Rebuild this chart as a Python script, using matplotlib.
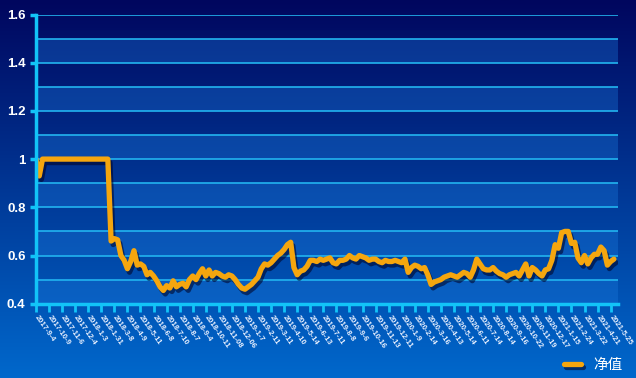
import numpy as np
import matplotlib
matplotlib.use("Agg")
import matplotlib.pyplot as plt
import matplotlib.patheffects as pe
from matplotlib.colors import LinearSegmentedColormap

# ---- data (weekly samples of the NAV curve, 5 trading days apart) ----
nav = [1.0, 0.93, 1.0, 1.0, 1.0, 1.0, 1.0, 1.0, 1.0, 1.0,
       1.0, 1.0, 1.0, 1.0, 1.0, 1.0, 1.0, 1.0, 1.0, 1.0,
       1.0, 1.0, 1.0, 0.66, 0.67, 0.665, 0.60, 0.58, 0.545, 0.575,
       0.62, 0.56, 0.565, 0.555, 0.52, 0.53, 0.515, 0.495, 0.47, 0.455,
       0.475, 0.465, 0.495, 0.47, 0.48, 0.485, 0.47, 0.50, 0.515, 0.50,
       0.525, 0.545, 0.515, 0.54, 0.515, 0.53, 0.525, 0.515, 0.51, 0.52,
       0.515, 0.50, 0.48, 0.465, 0.46, 0.47, 0.48, 0.495, 0.51, 0.545,
       0.565, 0.56, 0.57, 0.585, 0.60, 0.61, 0.625, 0.645, 0.655, 0.55,
       0.52, 0.535, 0.54, 0.555, 0.58, 0.58, 0.575, 0.585, 0.58, 0.585,
       0.59, 0.57, 0.565, 0.58, 0.58, 0.585, 0.60, 0.59, 0.585, 0.60,
       0.595, 0.59, 0.58, 0.585, 0.585, 0.575, 0.57, 0.58, 0.575, 0.575,
       0.58, 0.575, 0.57, 0.585, 0.53, 0.55, 0.56, 0.555, 0.545, 0.55,
       0.52, 0.48, 0.49, 0.495, 0.50, 0.51, 0.515, 0.52, 0.515, 0.51,
       0.52, 0.53, 0.525, 0.51, 0.54, 0.585, 0.565, 0.545, 0.54, 0.54,
       0.55, 0.535, 0.525, 0.52, 0.51, 0.52, 0.525, 0.53, 0.515, 0.54,
       0.565, 0.515, 0.55, 0.54, 0.525, 0.515, 0.54, 0.545, 0.58, 0.645,
       0.63, 0.695, 0.70, 0.70, 0.65, 0.655, 0.59, 0.57, 0.60, 0.565,
       0.59, 0.605, 0.605, 0.635, 0.62, 0.56, 0.575, 0.585]
sample_step = 5      # trading days between samples
tick_step = 20       # trading days between date labels
date_labels = ["2017-9-4", "2017-10-9", "2017-11-6", "2017-12-4", "2018-1-3",
               "2018-1-31", "2018-3-8", "2018-4-9", "2018-5-11", "2018-6-8",
               "2018-7-10", "2018-8-7", "2018-9-4", "2018-10-11", "2018-11-08",
               "2018-12-06", "2019-1-7", "2019-2-11", "2019-3-11", "2019-4-10",
               "2019-5-14", "2019-6-13", "2019-7-11", "2019-8-8", "2019-9-6",
               "2019-10-16", "2019-11-13", "2019-12-11", "2020-1-9", "2020-2-14",
               "2020-3-16", "2020-4-13", "2020-5-14", "2020-6-11", "2020-7-14",
               "2020-8-14", "2020-9-16", "2020-10-22", "2020-11-19", "2020-12-17",
               "2021-1-15", "2021-2-24", "2021-3-22", "2021-4-21", "2021-5-25"]
y_ticks = [0.4, 0.6, 0.8, 1.0, 1.2, 1.4, 1.6]
y_tick_labels = ["0.4", "0.6", "0.8", "1", "1.2", "1.4", "1.6"]
series_name = "净值"

# ---- figure ----
W, H = 636, 378
fig = plt.figure(figsize=(W / 100, H / 100), dpi=100)

# background gradient
bg = fig.add_axes([0, 0, 1, 1], zorder=-10)
cmap = LinearSegmentedColormap.from_list("bg", ["#00065e", "#0068cc"])
grad = np.linspace(0, 1, 256).reshape(-1, 1)
bg.imshow(grad, aspect="auto", cmap=cmap, extent=[0, 1, 0, 1], origin="upper")
bg.set_axis_off()

left, right = 36 / W, 618 / W
bottom, top = 1 - 303.7 / H, 1 - 14.5 / H
ax = fig.add_axes([left, bottom, right - left, top - bottom])
ax.set_facecolor("none")

x = np.arange(len(nav)) * sample_step
xmax = (618 - 36) / 13.06 * tick_step
ax.set_xlim(0, xmax)
ax.set_ylim(0.4, 1.6)

# alternating bands
for lo in np.arange(0.4, 1.6, 0.2):
    ax.axhspan(lo, lo + 0.1, color="#1a78dc", alpha=0.36, lw=0, zorder=0)
# grid lines
for g in np.arange(0.5, 1.61, 0.1):
    ax.axhline(g, color="#22b4f0", lw=1.2, zorder=1)

line, = ax.plot(x, nav, color="#f5a60e", lw=3.8, solid_joinstyle="round",
                solid_capstyle="round", zorder=3, label=series_name)
line.set_path_effects([pe.SimpleLineShadow(offset=(1.5, -2.5), shadow_color="#000020", alpha=0.55),
                       pe.Normal()])

for s in ["top", "right"]:
    ax.spines[s].set_visible(False)
for s in ["left", "bottom"]:
    ax.spines[s].set_color("#12c4f8")
    ax.spines[s].set_linewidth(2.5)
    ax.spines[s].set_zorder(4)

ax.set_yticks(y_ticks)
ax.set_yticklabels(y_tick_labels, fontfamily="Liberation Sans", fontweight="bold",
                   fontsize=9.5, color="white")
ax.tick_params(axis="y", length=4.5, width=2.5, color="#12c4f8", pad=3)

ax.set_xticks(np.arange(len(date_labels)) * tick_step)
ax.set_xticklabels(date_labels, rotation=-55, ha="left", va="center",
                   rotation_mode="anchor", fontfamily="Liberation Sans",
                   fontweight="bold", fontsize=5.5, color="#e8f0ff")
ax.tick_params(axis="x", length=6, width=2, color="#12c4f8", pad=3)

leg = fig.legend(handles=[line], loc="center right",
                 bbox_to_anchor=(628 / W, 1 - 365 / H), frameon=False,
                 borderaxespad=0, handlelength=1.2, handletextpad=0.8,
                 prop={"family": ["Noto Sans CJK SC", "DejaVu Sans"], "size": 10.5})
for t in leg.get_texts():
    t.set_color("white")

fig.savefig("out.png", dpi=100)
